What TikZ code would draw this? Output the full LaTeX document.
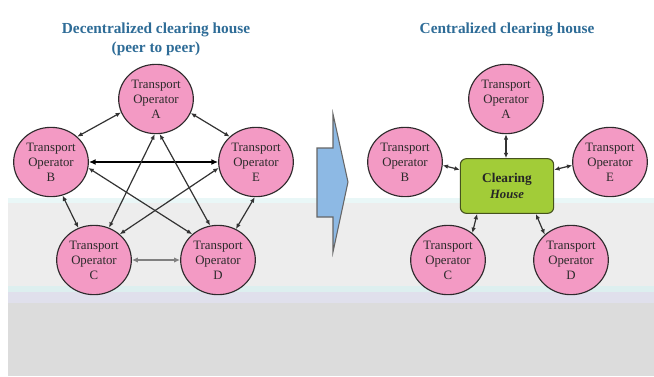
\documentclass[tikz,border=0pt]{standalone}
\usepackage{fontspec}
\setmainfont{Liberation Serif}
\usetikzlibrary{shapes.geometric,arrows.meta}

\definecolor{oppink}{HTML}{F39AC4}
\definecolor{opline}{HTML}{2E2A2C}
\definecolor{optext}{HTML}{2A2A2A}
\definecolor{hubgreen}{HTML}{A2CC38}
\definecolor{hubline}{HTML}{46521E}
\definecolor{titleblue}{HTML}{2E6C97}
\definecolor{shiftblue}{HTML}{8DB9E4}
\definecolor{linkgray}{HTML}{333333}
\definecolor{bandA}{HTML}{E9F7F7}
\definecolor{bandB}{HTML}{EDEDED}
\definecolor{bandC}{HTML}{DDEFEF}
\definecolor{bandD}{HTML}{E0E0EC}
\definecolor{bandE}{HTML}{DCDCDC}

\begin{document}
\begin{tikzpicture}[x=0.75pt,y=-0.75pt,
  op/.style={ellipse, draw=opline, line width=0.85pt, fill=oppink,
    minimum width=56pt, minimum height=52pt, inner sep=0pt, align=center,
    text=optext, font=\fontsize{9.6}{11.25}\selectfont},
  hub/.style={rectangle, rounded corners=4.5pt, draw=hubline, line width=0.8pt,
    fill=hubgreen, minimum width=70pt, minimum height=41pt, inner sep=0pt,
    align=center, text=black!85},
  heading/.style={align=center, text=titleblue,
    font=\fontsize{11.5}{14.25}\selectfont\bfseries},
  link/.style={{Latex[length=4pt,width=3.4pt]}-{Latex[length=4pt,width=3.4pt]},
    line width=0.9pt, draw=linkgray},
  heavylink/.style={{Latex[length=5pt,width=4.4pt]}-{Latex[length=5pt,width=4.4pt]},
    line width=1.8pt, draw=black},
  softlink/.style={{Latex[length=4.5pt,width=4pt]}-{Latex[length=4.5pt,width=4pt]},
    line width=2.2pt, draw=black!50},
  shiftarrow/.style={draw=black!60, line width=0.8pt, fill=shiftblue}]

% page and background bands
\useasboundingbox (0,0) rectangle (654,376);
\fill[white] (0,0) rectangle (654,376);
\fill[bandA] (8,198) rectangle (654,203);
\fill[bandB] (8,203) rectangle (654,286);
\fill[bandC] (8,286) rectangle (654,292);
\fill[bandD] (8,292) rectangle (654,303);
\fill[bandE] (8,303) rectangle (654,376);

% headings
\node[heading] (hdL) at (156,39.5) {Decentralized clearing house\\(peer to peer)};
\node[heading] (hdR) at (507,29.5) {Centralized clearing house};

% peer-to-peer operators
\node[op] (la) at (156,99)  {Transport\\Operator\\A};
\node[op] (lb) at (51,162)  {Transport\\Operator\\B};
\node[op] (le) at (256,162) {Transport\\Operator\\E};
\node[op] (lc) at (94,260)  {Transport\\Operator\\C};
\node[op] (ld) at (218,260) {Transport\\Operator\\D};

\draw[link] (la.201) -- (lb.44);
\draw[link] (la.338) -- (le.136);
\draw[heavylink] (lb.east) -- (le.west);
\draw[link] (lb.289) -- (lc.116);
\draw[link] (le.268) -- (ld.60);
\draw[softlink] (lc.east) -- (ld.west);
\draw[link] (la.268) -- (lc.65);
\draw[link] (la.276) -- (ld.103);
\draw[link] (lb.351) -- (ld.135);
\draw[link] (le.189) -- (lc.45);

% transition arrow
\draw[shiftarrow] (317,148) -- (333,148) -- (333,114) -- (348,182) -- (333,252)
  -- (333,217) -- (317,217) -- cycle;

% centralized layout
\node[hub] (ch) at (507,186)
  {{\fontsize{10}{12}\selectfont\bfseries Clearing}\\[-0.5pt]
   {\fontsize{9.5}{12}\selectfont\bfseries\itshape House}};
\node[op] (ra) at (506,99)  {Transport\\Operator\\A};
\node[op] (rb) at (405,162) {Transport\\Operator\\B};
\node[op] (re) at (610,162) {Transport\\Operator\\E};
\node[op] (rc) at (448,260) {Transport\\Operator\\C};
\node[op] (rd) at (571,260) {Transport\\Operator\\D};

\draw[link] (ra.south) -- (ch.north -| ra.south);
\draw[link] (rb.355) -- (ch.161);
\draw[link] (re.185) -- (ch.19);
\draw[link] (ch.223) -- (rc.48);
\draw[link] (ch.316) -- (rd.136);
\end{tikzpicture}
\end{document}
